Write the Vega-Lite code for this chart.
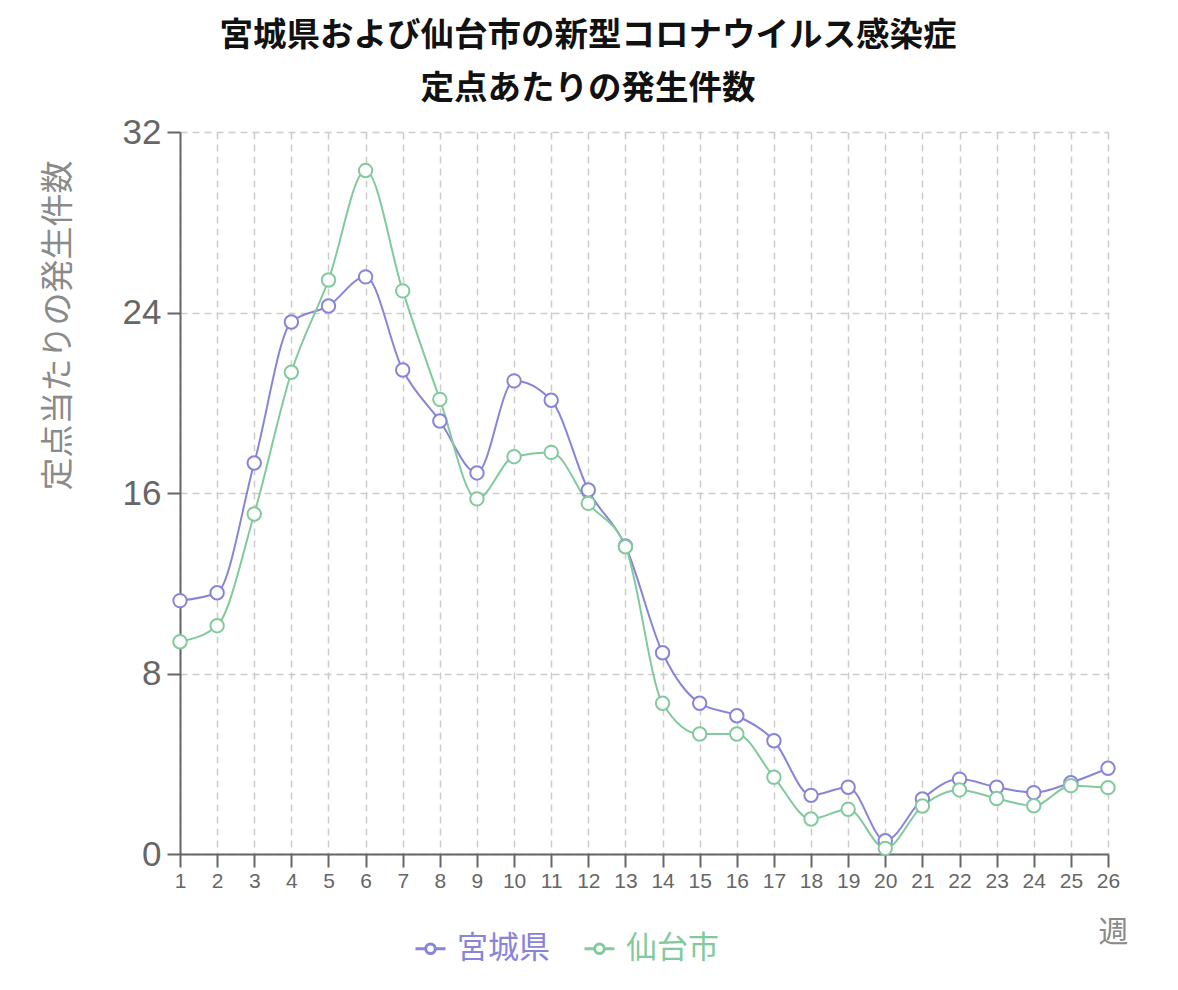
{
  "$schema": "https://vega.github.io/schema/vega-lite/v6.json",
  "width": 928,
  "height": 722,
  "autosize": {"type": "none"},
  "padding": {"left": 180, "top": 132, "right": 70, "bottom": 136},
  "background": "white",
  "config": {
    "font": "Liberation Sans, Noto Sans CJK JP, sans-serif",
    "view": {"stroke": null}
  },
  "title": {
    "text": ["宮城県および仙台市の新型コロナウイルス感染症", "定点あたりの発生件数"],
    "font": "Noto Sans CJK JP",
    "fontSize": 33.5,
    "fontWeight": "bold",
    "color": "#111111",
    "lineHeight": 53,
    "anchor": "middle",
    "frame": "group",
    "dx": -56,
    "offset": 9
  },
  "data": {
    "values": [
      {"week": 1, "area": "宮城県", "rate": 11.23},
      {"week": 2, "area": "宮城県", "rate": 11.58},
      {"week": 3, "area": "宮城県", "rate": 17.33},
      {"week": 4, "area": "宮城県", "rate": 23.58},
      {"week": 5, "area": "宮城県", "rate": 24.29},
      {"week": 6, "area": "宮城県", "rate": 25.58},
      {"week": 7, "area": "宮城県", "rate": 21.45},
      {"week": 8, "area": "宮城県", "rate": 19.19},
      {"week": 9, "area": "宮城県", "rate": 16.89},
      {"week": 10, "area": "宮城県", "rate": 20.97},
      {"week": 11, "area": "宮城県", "rate": 20.11},
      {"week": 12, "area": "宮城県", "rate": 16.13},
      {"week": 13, "area": "宮城県", "rate": 13.65},
      {"week": 14, "area": "宮城県", "rate": 8.92},
      {"week": 15, "area": "宮城県", "rate": 6.68},
      {"week": 16, "area": "宮城県", "rate": 6.13},
      {"week": 17, "area": "宮城県", "rate": 5.02},
      {"week": 18, "area": "宮城県", "rate": 2.6},
      {"week": 19, "area": "宮城県", "rate": 2.96},
      {"week": 20, "area": "宮城県", "rate": 0.59},
      {"week": 21, "area": "宮城県", "rate": 2.44},
      {"week": 22, "area": "宮城県", "rate": 3.32},
      {"week": 23, "area": "宮城県", "rate": 2.96},
      {"week": 24, "area": "宮城県", "rate": 2.72},
      {"week": 25, "area": "宮城県", "rate": 3.16},
      {"week": 26, "area": "宮城県", "rate": 3.8},
      {"week": 1, "area": "仙台市", "rate": 9.41},
      {"week": 2, "area": "仙台市", "rate": 10.12},
      {"week": 3, "area": "仙台市", "rate": 15.07},
      {"week": 4, "area": "仙台市", "rate": 21.35},
      {"week": 5, "area": "仙台市", "rate": 25.44},
      {"week": 6, "area": "仙台市", "rate": 30.29},
      {"week": 7, "area": "仙台市", "rate": 24.96},
      {"week": 8, "area": "仙台市", "rate": 20.15},
      {"week": 9, "area": "仙台市", "rate": 15.74},
      {"week": 10, "area": "仙台市", "rate": 17.61},
      {"week": 11, "area": "仙台市", "rate": 17.8},
      {"week": 12, "area": "仙台市", "rate": 15.54},
      {"week": 13, "area": "仙台市", "rate": 13.62},
      {"week": 14, "area": "仙台市", "rate": 6.68},
      {"week": 15, "area": "仙台市", "rate": 5.32},
      {"week": 16, "area": "仙台市", "rate": 5.32},
      {"week": 17, "area": "仙台市", "rate": 3.4},
      {"week": 18, "area": "仙台市", "rate": 1.55},
      {"week": 19, "area": "仙台市", "rate": 1.98},
      {"week": 20, "area": "仙台市", "rate": 0.25},
      {"week": 21, "area": "仙台市", "rate": 2.13},
      {"week": 22, "area": "仙台市", "rate": 2.84},
      {"week": 23, "area": "仙台市", "rate": 2.46},
      {"week": 24, "area": "仙台市", "rate": 2.14},
      {"week": 25, "area": "仙台市", "rate": 3.03},
      {"week": 26, "area": "仙台市", "rate": 2.94}
    ]
  },
  "encoding": {
    "x": {
      "field": "week",
      "type": "quantitative",
      "scale": {"domain": [1, 26], "nice": false, "zero": false},
      "axis": {
        "values": [1, 2, 3, 4, 5, 6, 7, 8, 9, 10, 11, 12, 13, 14, 15, 16, 17, 18, 19, 20, 21, 22, 23, 24, 25, 26],
        "title": "週",
        "titleFont": "Noto Sans CJK JP",
        "titleFontSize": 30,
        "titleFontWeight": "normal",
        "titleColor": "#8a8a8a",
        "titleX": 933,
        "titleY": 78,
        "titleAlign": "center",
        "titleBaseline": "middle",
        "labelFontSize": 21,
        "labelColor": "#666666",
        "labelPadding": 3,
        "labelFlush": false,
        "labelOverlap": false,
        "domainColor": "#666666",
        "domainWidth": 2,
        "tickColor": "#666666",
        "tickWidth": 2,
        "tickSize": 13,
        "grid": true,
        "gridColor": "#cccccc",
        "gridWidth": 1.5,
        "gridDash": [7, 5]
      }
    },
    "y": {
      "field": "rate",
      "type": "quantitative",
      "scale": {"domain": [0, 32], "nice": false},
      "axis": {
        "values": [0, 8, 16, 24, 32],
        "title": "定点当たりの発生件数",
        "titleFont": "Noto Sans CJK JP",
        "titleFontSize": 33,
        "titleFontWeight": "normal",
        "titleColor": "#8a8a8a",
        "titleAngle": -90,
        "titleX": -122,
        "titleY": 193,
        "titleAlign": "center",
        "titleBaseline": "middle",
        "labelFontSize": 35,
        "labelColor": "#666666",
        "labelPadding": 6,
        "labelFlush": false,
        "domainColor": "#666666",
        "domainWidth": 2,
        "tickColor": "#666666",
        "tickWidth": 2,
        "tickSize": 13,
        "grid": true,
        "gridColor": "#cccccc",
        "gridWidth": 1.5,
        "gridDash": [7, 5]
      }
    },
    "color": {
      "field": "area",
      "type": "nominal",
      "sort": ["宮城県", "仙台市"],
      "scale": {"domain": ["宮城県", "仙台市"], "range": ["#8884d8", "#82ca9d"]},
      "legend": {
        "title": null,
        "orient": "none",
        "direction": "horizontal",
        "legendX": 234,
        "legendY": 800,
        "symbolType": "M-1,0L-0.32,0M0.32,0L1,0M0.32,0A0.32,0.32,0,1,1,-0.32,0A0.32,0.32,0,1,1,0.32,0",
        "symbolSize": 900,
        "symbolStrokeWidth": 3,
        "symbolFillColor": "white",
        "labelFont": "Noto Sans CJK JP",
        "labelFontSize": 31,
        "labelOffset": 10,
        "columnPadding": 28,
        "encode": {
          "labels": {"update": {"fill": {"scale": "color", "field": "value"}}}
        }
      }
    }
  },
  "layer": [
    {
      "mark": {"type": "line", "interpolate": "monotone", "strokeWidth": 2}
    },
    {
      "mark": {"type": "point", "shape": "circle", "filled": false, "fill": "white", "fillOpacity": 1, "opacity": 1, "size": 180, "strokeWidth": 2}
    }
  ]
}
